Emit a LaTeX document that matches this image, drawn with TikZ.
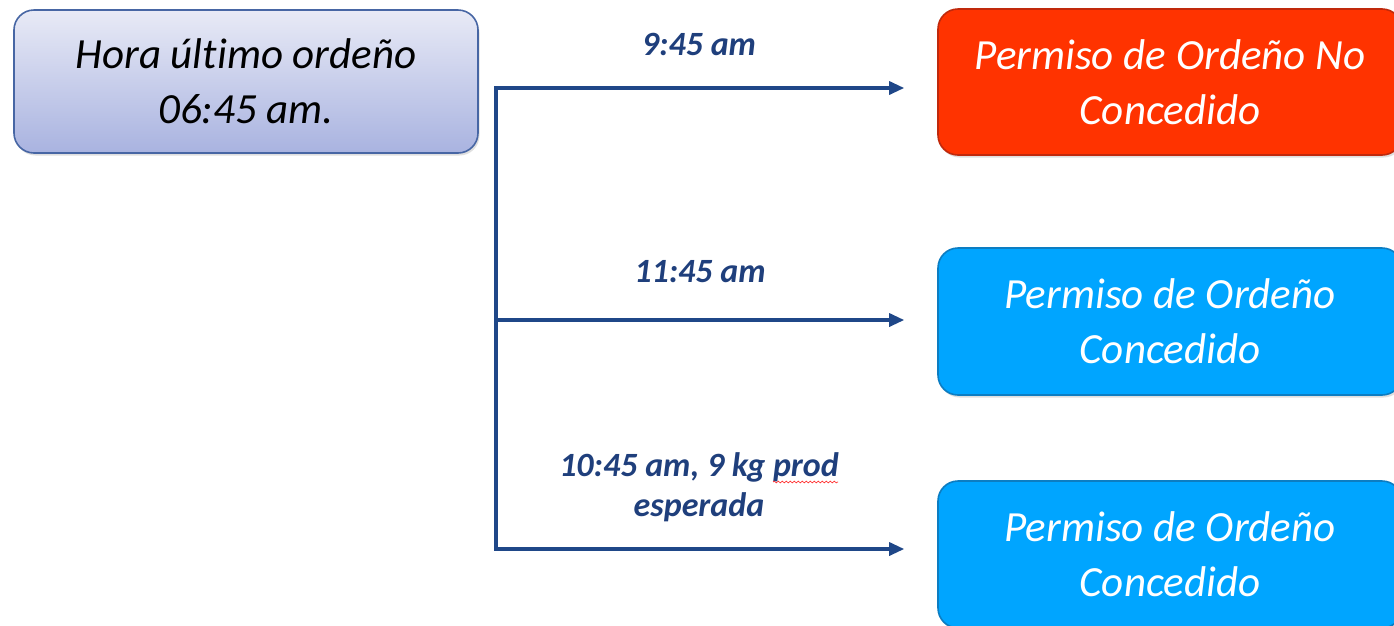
\documentclass[tikz,border=0pt]{standalone}
\usepackage{fontspec}
\setmainfont{Carlito}[Ligatures={NoCommon}]
\usetikzlibrary{arrows.meta,shadows,decorations.pathmorphing}
\definecolor{linec}{HTML}{1F4788}
\definecolor{lblc}{HTML}{1F3F7C}
\definecolor{srctop}{HTML}{E8EAF6}
\definecolor{srcbot}{HTML}{A9B3E0}
\definecolor{srcdraw}{HTML}{4766A4}
\definecolor{redfill}{HTML}{FF3300}
\definecolor{reddraw}{HTML}{C0290C}
\definecolor{bluefill}{HTML}{00A5FF}
\definecolor{bluedraw}{HTML}{0C7DC2}
\tikzset{
  basebox/.style={rounded corners=20pt, line width=1.6pt, align=center,
    font=\fontsize{43}{55}\selectfont\itshape, inner sep=0pt,
    drop shadow={shadow xshift=1.5pt, shadow yshift=-2.5pt, opacity=0.25}},
  srcbox/.style={basebox, draw=srcdraw, top color=srctop, bottom color=srcbot,
    minimum width=464pt, minimum height=143pt, text=black},
  nobox/.style={basebox, draw=reddraw, fill=redfill, text=white,
    minimum width=464pt, minimum height=146pt},
  okbox/.style={basebox, draw=bluedraw, fill=bluefill, text=white,
    minimum width=464pt, minimum height=147pt},
  lbl/.style={font=\fontsize{34}{40}\selectfont\bfseries\itshape, text=lblc, align=center, inner sep=0pt},
  conn/.style={draw=linec, line width=3.2pt},
  arr/.style={conn, -{Triangle[length=15pt,width=13pt]}, shorten >=33pt}
}
\begin{document}
\begin{tikzpicture}[x=1pt,y=-1pt]
\useasboundingbox (0,0) rectangle (1394,625);
\clip (0,0) rectangle (1394,625);
\fill[white] (0,0) rectangle (1394,625);

\node[srcbox] (src) at (246,81.5) {Hora último ordeño\\06:45 am.};
\node[nobox] (no) at (1170,82) {Permiso de Ordeño No\\Concedido};
\node[okbox] (ok1) at (1170,321.5) {Permiso de Ordeño\\Concedido};
\node[okbox] (ok2) at (1170,554.5) {Permiso de Ordeño\\Concedido};

\coordinate (j1) at (496,88);
\coordinate (j2) at (496,320);
\coordinate (j3) at (496,549);

\draw[conn, line cap=rect] (j1) -- (j3);
\draw[arr] (j1) -- (j1 -| no.west);
\draw[arr] (j2) -- (j2 -| ok1.west);
\draw[arr] (j3) -- (j3 -| ok2.west);

\node[lbl] (l1) at (699,44) {9:45 am};
\node[lbl] (l2) at (700,272) {11:45 am};
\node[lbl] (l3) at (699,487) {10:45 am, 9 kg prod\\esperada};
\draw[red!80, line width=0.7pt, decorate, decoration={snake, amplitude=0.9pt, segment length=4pt}] (773,482) -- (838,482);
\end{tikzpicture}
\end{document}
